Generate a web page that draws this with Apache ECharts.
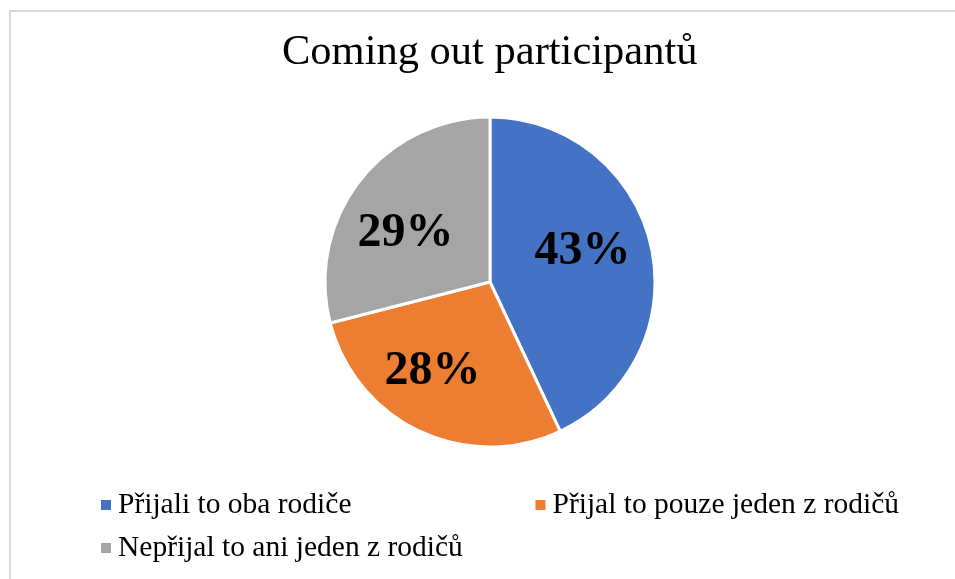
<!DOCTYPE html>
<html>
<head>
<meta charset="utf-8">
<script src="https://cdn.jsdelivr.net/npm/echarts@6/dist/echarts.min.js"></script>
<style>
html,body{margin:0;padding:0;background:#fff;}
#frame{position:absolute;left:9px;top:10px;width:1000px;height:600px;border:2px solid #d9d9d9;box-sizing:border-box;}
#chart{position:absolute;left:0;top:0;width:955px;height:579px;}
</style>
</head>
<body>
<div id="frame"></div>
<div id="chart"></div>
<script>
const titleText = 'Coming out participantů';
const categories = ['Přijali to oba rodiče', 'Přijal to pouze jeden z rodičů', 'Nepřijal to ani jeden z rodičů'];
const values = [43, 28, 29];
const colors = ['#4472C4', '#ED7D31', '#A5A5A5'];
const labelOffsets = [[9, -12], [-21, 12], [-17, 4]];

const chart = echarts.init(document.getElementById('chart'));
const font = '"Liberation Serif","Times New Roman",serif';
const legendText = {fontFamily: font, fontSize: 29.5, color: '#000', padding: [0, 0, 0, 2]};
const legendIcon = {borderWidth: 0};
chart.setOption({
  animation: false,
  title: {
    text: titleText, left: 282, top: 31, padding: 0,
    textStyle: {fontFamily: font, fontSize: 42.5, fontWeight: 'normal', color: '#000'}
  },
  legend: [{
    data: categories.slice(0, 2), left: 101, top: 490, padding: 0, width: 900,
    icon: 'rect', itemWidth: 10, itemHeight: 10, itemGap: 184,
    itemStyle: legendIcon, textStyle: legendText
  }, {
    data: categories.slice(2), left: 101, top: 533, padding: 0,
    icon: 'rect', itemWidth: 10, itemHeight: 10,
    itemStyle: legendIcon, textStyle: legendText
  }],
  series: [{
    type: 'pie', center: [490, 282], radius: 165, startAngle: 90, clockwise: true,
    itemStyle: {borderColor: '#fff', borderWidth: 3},
    label: {
      position: 'inside', formatter: '{c}%',
      fontFamily: font, fontSize: 48, fontWeight: 'bold', color: '#000'
    },
    labelLine: {show: false},
    data: categories.map((n, i) => ({
      name: n, value: values[i], itemStyle: {color: colors[i]},
      label: {offset: labelOffsets[i]}
    }))
  }]
});
</script>
</body>
</html>
